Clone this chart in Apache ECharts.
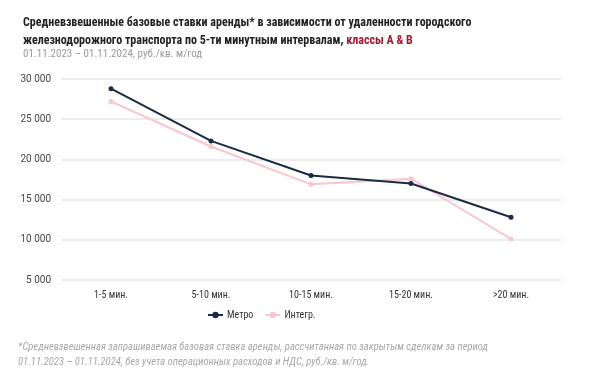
<!DOCTYPE html>
<html>
<head>
<meta charset="utf-8">
<script src="https://cdn.jsdelivr.net/npm/echarts@6/dist/echarts.min.js"></script>
<style>
  html, body { margin: 0; padding: 0; background: #fff; }
  #chart { width: 594px; height: 377px; }
</style>
</head>
<body>
<div id="chart"></div>
<script>
// данные
var categories = ['1-5 мин.', '5-10 мин.', '10-15 мин.', '15-20 мин.', '>20 мин.'];
var metroValues = [28800, 22300, 18000, 17000, 12800];
var integValues = [27200, 21600, 16900, 17600, 10100];
var yMin = 5000;
var yMax = 30000;
var yStep = 5000;

var narrow = '"Liberation Sans Narrow", "Roboto Condensed", Roboto';

var myChart = echarts.init(document.getElementById('chart'));

// "30 000" формат
function fmt(v) {
  return String(v).replace(/\B(?=(\d{3})+(?!\d))/g, ' ');
}

var option = {
  backgroundColor: '#fff',
  textStyle: { fontFamily: narrow },
  title: {
    left: 18,
    top: 9,
    text: '{b|Средневзвешенные базовые ставки аренды* в зависимости от удаленности городского}\n' +
          '{b|железнодорожного транспорта по 5-ти минутным интервалам, }{r|классы A & B}',
    textStyle: {
      rich: {
        b: { fontSize: 12, fontWeight: 'bold', color: '#222', fontFamily: narrow, lineHeight: 18 },
        r: { fontSize: 12, fontWeight: 'bold', color: '#a3192f', fontFamily: narrow, lineHeight: 18 }
      }
    },
    subtext: '01.11.2023 – 01.11.2024, руб./кв. м/год',
    subtextStyle: { fontSize: 11, color: '#9a9a9a', fontFamily: narrow },
    itemGap: 5
  },
  legend: {
    left: 202,
    top: 305,
    itemWidth: 15,
    itemHeight: 8,
    itemGap: 11,
    textStyle: { fontSize: 10, color: '#333', fontFamily: narrow, padding: [0, 0, 0, -1] },
    data: ['Метро', 'Интегр.']
  },
  grid: {
    left: 61,
    right: 33,
    top: 79,
    bottom: 97
  },
  xAxis: {
    type: 'category',
    data: categories,
    boundaryGap: true,
    axisLine: { show: false },
    axisTick: { show: false },
    axisLabel: { color: '#333', fontSize: 10, margin: 10 }
  },
  yAxis: {
    type: 'value',
    min: yMin,
    max: yMax,
    interval: yStep,
    axisLine: { show: false },
    axisTick: { show: false },
    axisLabel: { color: '#444', fontSize: 10, margin: 10, fontFamily: 'Roboto', formatter: fmt },
    splitLine: { lineStyle: { color: '#e6e6e6', width: 1.5 } }
  },
  series: [
    {
      name: 'Метро',
      type: 'line',
      data: metroValues,
      symbol: 'circle',
      symbolSize: 5,
      lineStyle: { color: '#1b2a45', width: 2 },
      itemStyle: { color: '#1b2a45' },
      z: 3
    },
    {
      name: 'Интегр.',
      type: 'line',
      data: integValues,
      symbol: 'circle',
      symbolSize: 5,
      lineStyle: { color: '#f7c6cf', width: 2 },
      itemStyle: { color: '#f7c6cf' },
      z: 2
    }
  ],
  graphic: [
    {
      type: 'text',
      left: 18,
      top: 340,
      style: {
        text: '*Средневзвешенная запрашиваемая базовая ставка аренды, рассчитанная по закрытым сделкам за период\n' +
              '01.11.2023 – 01.11.2024, без учета операционных расходов и НДС, руб./кв. м/год.',
        fontFamily: narrow,
        fontStyle: 'italic',
        fontSize: 10.6,
        fill: '#a8a8a8',
        lineHeight: 15
      }
    }
  ]
};
myChart.setOption(option);
</script>
</body>
</html>
